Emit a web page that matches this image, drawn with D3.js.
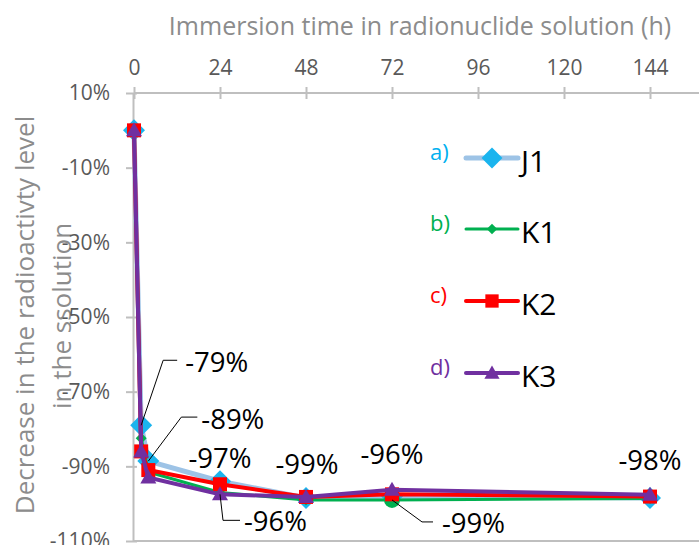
<!DOCTYPE html>
<html><head><meta charset="utf-8">
<script src="https://cdn.jsdelivr.net/npm/d3@7"></script>
<style>
html,body{margin:0;padding:0;background:#fff;}
svg{display:block;font-family:"Open Sans","Noto Sans",sans-serif;}
</style></head>
<body><svg id="c" width="699" height="545"></svg>
<script>
// ---- data ----
const hours = [0, 2, 4, 24, 48, 72, 144];
const seriesNames = ["J1", "K1", "K2", "K3"];
const seriesTags = ["a)", "b)", "c)", "d)"];
const j1 = [0, -79, -88.6, -94, -98.5, -98, -98.5];
const k1 = [0, -82.5, -91.5, -97, -99, -99, -98.6];
const k2 = [0, -86, -91, -94.8, -98.2, -97.5, -98.1];
const k3 = [0, -86, -93, -97.5, -98.2, -96.3, -97.6];
const xTicks = [0, 24, 48, 72, 96, 120, 144];
const yTicks = [10, -10, -30, -50, -70, -90, -110];
const labelTexts = ["-79%", "-89%", "-97%", "-96%", "-99%", "-96%", "-99%", "-98%"];
const labelSeries = [0, 0, 1, 3, 1, 3, 1, 3];
const labelPoint = [1, 2, 3, 3, 4, 5, 5, 6];
const xTitle = "Immersion time in radionuclide solution (h)";
const yTitle = ["Decrease in the radioactivty level", "in the ssolution"];

// ---- styles / layout ----
const values = [j1, k1, k2, k3];
const lineColors = ["#9DC3E6", "#00B050", "#FF0000", "#7030A0"];
const markColors = ["#1AB4EE", "#00B050", "#FF0000", "#7030A0"];
const tagColors = ["#00B0F0", "#00B050", "#FF0000", "#7030A0"];
const lineWidths = [5, 3, 4, 4];
const markerTypes = ["diamond", "smalldiamond", "square", "triangle"];
// per-label layout: [textDx, textDy, anchor, leader points (relative)]
const labelLayout = [
  [44, -63, "start", [[22, -65], [36, -65]]],
  [53, -42, "start", [[33, -44], [49, -44]]],
  [0, -34, "middle", null],
  [24, 27, "start", [[3, 26], [20, 26]]],
  [1, -36, "middle", null],
  [0, -35, "middle", null],
  [50, 23, "start", [[30, 22], [41, 22]]],
  [0, -34, "middle", null]
];

const svg = d3.select("#c");
const x = d3.scaleLinear().domain([0, 144]).range([134, 650]);
const y = d3.scaleLinear().domain([-110, 10]).range([541, 93]);

// y title
const yt = svg.append("g").attr("fill", "#8C8C8C").attr("font-size", 26);
yt.append("text").attr("transform", "translate(25,315) rotate(-90)").attr("text-anchor", "middle").attr("dy", "0.35em").text(yTitle[0]);
yt.append("text").attr("transform", "translate(62,316) rotate(-90)").attr("text-anchor", "middle").attr("dy", "0.35em").text(yTitle[1]);

// x title
svg.append("text").attr("x", 420).attr("y", 26).attr("dy", "0.35em").attr("text-anchor", "middle")
  .attr("fill", "#8C8C8C").attr("font-size", 25).text(xTitle);

// bottom border
svg.append("line").attr("x1", 133).attr("x2", 699).attr("y1", y(-110)).attr("y2", y(-110))
  .attr("stroke", "#BFBFBF").attr("stroke-width", 2);

// top axis
const gx = svg.append("g").attr("transform", `translate(0,${y(10)})`)
  .call(d3.axisTop(x).tickValues(xTicks).tickSizeInner(6).tickSizeOuter(0).tickPadding(12).tickFormat(d3.format("d")));
gx.select(".domain").attr("d", `M${x(0)},0H699`).attr("stroke", "#BFBFBF").attr("stroke-width", 2);
gx.selectAll(".tick line").attr("stroke", "#BFBFBF").attr("stroke-width", 2).attr("y1", 6).attr("y2", -6);
gx.selectAll(".tick text").attr("fill", "#595959").attr("font-size", 21).attr("font-family", "Open Sans");

// left axis
const gy = svg.append("g").attr("transform", `translate(${x(0) - 1},0)`)
  .call(d3.axisLeft(y).tickValues(yTicks).tickSizeInner(7).tickSizeOuter(0).tickPadding(16).tickFormat(d => d + "%"));
gy.select(".domain").attr("stroke", "#BFBFBF").attr("stroke-width", 2);
gy.selectAll(".tick line").attr("stroke", "#BFBFBF").attr("stroke-width", 2).attr("x1", 4);
gy.selectAll(".tick text").attr("fill", "#595959").attr("font-size", 21).attr("font-family", "Open Sans");

// marker drawing
function marker(g, type, color, cx, cy, scale) {
  const s = scale || 1;
  if (type === "diamond") {
    const r = 11 * s;
    g.append("path").attr("d", `M${cx},${cy - r}L${cx + r},${cy}L${cx},${cy + r}L${cx - r},${cy}Z`).attr("fill", color);
  } else if (type === "smalldiamond") {
    const r = 5.5 * s;
    g.append("path").attr("d", `M${cx},${cy - r}L${cx + r},${cy}L${cx},${cy + r}L${cx - r},${cy}Z`).attr("fill", color);
  } else if (type === "square") {
    const r = 7 * s;
    g.append("rect").attr("x", cx - r).attr("y", cy - r).attr("width", 2 * r).attr("height", 2 * r).attr("fill", color);
  } else if (type === "triangle") {
    const r = 8 * s;
    g.append("path").attr("d", `M${cx},${cy - r}L${cx + r},${cy + r * 0.75}L${cx - r},${cy + r * 0.75}Z`).attr("fill", color);
  } else if (type === "circle") {
    g.append("circle").attr("cx", cx).attr("cy", cy).attr("r", 8 * s).attr("fill", color);
  }
}

const line = d3.line().x((d, i) => x(hours[i])).y(d => y(d));
const plot = svg.append("g");
values.forEach((vals, si) => {
  const g = plot.append("g");
  g.append("path").datum(vals).attr("d", line).attr("fill", "none")
    .attr("stroke", lineColors[si]).attr("stroke-width", lineWidths[si]).attr("stroke-linejoin", "round");
  vals.forEach((v, i) => {
    const type = (si === 1 && hours[i] === 72) ? "circle" : markerTypes[si];
    marker(g, type, markColors[si], x(hours[i]), y(v));
  });
});

// data labels
const lab = svg.append("g");
labelTexts.forEach((t, k) => {
  const si = labelSeries[k], pi = labelPoint[k];
  const ax = x(hours[pi]), ay = y(values[si][pi]);
  const [dx, dy, anchor, leader] = labelLayout[k];
  if (leader) {
    const pts = [[ax, ay]].concat(leader.map(p => [ax + p[0], ay + p[1]]));
    lab.append("path").attr("d", d3.line()(pts)).attr("fill", "none").attr("stroke", "#000").attr("stroke-width", 1);
  }
  lab.append("text").attr("x", ax + dx).attr("y", ay + dy).attr("dy", "0.35em").attr("text-anchor", anchor)
    .attr("font-size", 27.5).attr("fill", "#000").text(t);
});

// legend
const leg = svg.append("g");
const legY = [158, 229, 301, 373];
seriesNames.forEach((n, i) => {
  const ly = legY[i];
  leg.append("text").attr("x", 430).attr("y", ly - 6).attr("dy", "0.35em").attr("fill", tagColors[i])
    .attr("font-size", 22).text(seriesTags[i]);
  leg.append("line").attr("x1", 466).attr("x2", 518).attr("y1", ly).attr("y2", ly)
    .attr("stroke", lineColors[i]).attr("stroke-width", lineWidths[i]).attr("stroke-linecap", "round");
  const g = leg.append("g");
  marker(g, markerTypes[i], markColors[i], 492, ly, 0.95);
  leg.append("text").attr("x", 521).attr("y", ly + 3).attr("dy", "0.35em").attr("fill", "#000")
    .attr("font-size", 30).text(n);
});
</script></body></html>
